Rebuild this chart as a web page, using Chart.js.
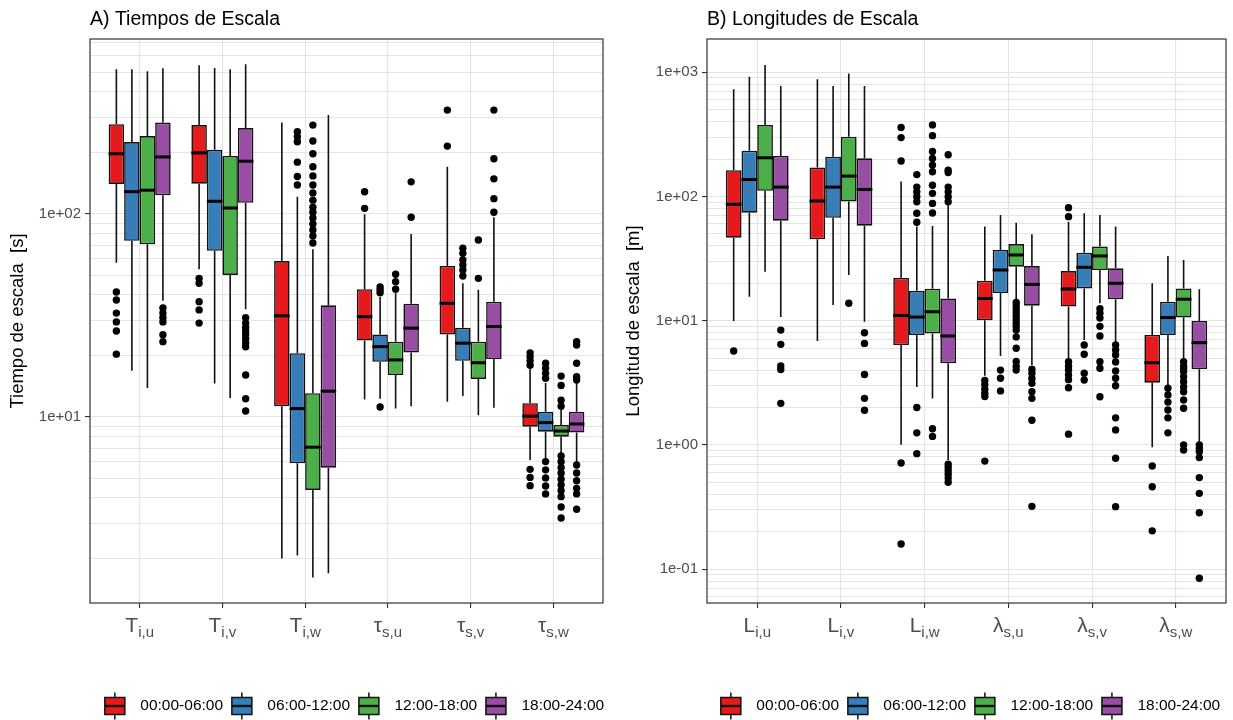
<!DOCTYPE html>
<html><head><meta charset="utf-8">
<script src="https://cdn.jsdelivr.net/npm/chart.js@4.4.1/dist/chart.umd.min.js"></script>
<style>
html,body{margin:0;padding:0;background:#fff;}
#wrap{position:relative;width:1233px;height:720px;overflow:hidden;}
.panel{position:absolute;top:0;height:720px;}
#pA{left:0;width:616px;}
#pB{left:616px;width:617px;}
</style></head><body>
<div id="wrap"><div class="panel" id="pA"><canvas id="cA" width="616" height="720"></canvas></div><div class="panel" id="pB"><canvas id="cB" width="617" height="720"></canvas></div></div>
<script>
// ---------- shared ----------
const seriesNames = ['00:00-06:00','06:00-12:00','12:00-18:00','18:00-24:00'];
const seriesColors = ['#E41A1C','#377EB8','#4DAF4A','#984EA3'];

// ---------- Panel A: Tiempos de Escala ----------
const catA_main = ['T','T','T','\u03C4','\u03C4','\u03C4'];
const catA_sub  = ['i,u','i,v','i,w','s,u','s,v','s,w'];
const yTicksA = [10, 100];
const yTickLabelsA = ['1e+01','1e+02'];
// rows = categories, columns = series
const A_lo  = [[57.5,16.9,13.9,37.4],[53.5,14.6,12.4,33.9],[2.01,2.08,1.62,1.70],[12.2,12.3,11.0,11.3],[11.9,12.7,10.2,11.1],[6.14,6.14,6.62,5.91]];
const A_q1  = [[140.6,73.8,70.9,123.6],[141,65.9,50.1,113.6],[11.3,5.91,4.37,5.63],[23.8,18.7,16.1,20.8],[25.5,18.9,15.4,19.3],[8.96,8.47,8.0,8.38]];
const A_med = [[198,128.8,131,191],[200,115.5,107,182],[31.5,11.0,7.1,13.4],[31.2,22.2,19.1,27.4],[36.3,23.1,18.5,27.9],[10.1,9.38,8.53,9.24]];
const A_q3  = [[277,226,242,282],[274,207,193,265],[58.6,20.6,13.1,35.5],[42.6,25.5,23.5,36.1],[55.5,27.5,23.5,37.0],[11.7,10.6,9.14,10.6]];
const A_hi  = [[516,516,505,522],[541,524,516,546],[282,121.7,67,307],[99.7,39,40.7,79.6],[171,45.6,42.3,96.4],[17.4,14.7,11.0,14.7]];
const A_out = [
  [[41.3,37.7,32.5,29.4,26.5,20.4],[],[],[34.4,32.5,30.8,29.4,25.4,23.5]],
  [[48.2,45.6,37.0,33.7,29.0],[],[],[30.8,29.0,27.7,26.5,25.4,24.3,23.2,22.2,16.1,12.3,10.7]],
  [[],[254,240,227,180,153,139],[274,229,198,171,154,139,127,117,108,102,95.6,89.3,83.4,77.9,71.9],[]],
  [[128.8,106.6],[43.7,42.3,40.9,11.2],[50.5,46.4,42.6],[144,96.4]],
  [[325,216],[67.8,64,59.3,56.1,53,49.5],[74.5,48.2],[325,187,149,119,102]],
  [[20.7,19.8,18.9,18.0,5.52,5.04,4.59],[18.4,17.4,16.4,15.5,6.03,5.49,5.01,4.57,4.18],[15.9,14.3,12.1,11.3,6.43,6.02,5.63,5.28,4.94,4.62,4.33,4.05,3.6,3.18],[23.5,22.6,18.4,15.8,15.2,5.8,5.3,4.85,4.45,4.18,3.51]]
];

// ---------- Panel B: Longitudes de Escala ----------
const catB_main = ['L','L','L','\u03BB','\u03BB','\u03BB'];
const catB_sub  = ['i,u','i,v','i,w','s,u','s,v','s,w'];
const yTicksB = [0.1, 1, 10, 100, 1000];
const yTickLabelsB = ['1e-01','1e+00','1e+01','1e+02','1e+03'];
const B_lo  = [[9.95,15.6,24.8,10.7],[6.87,13.4,23.3,9.8],[1.0,2.93,2.36,0.757],[3.6,5.2,14.6,4.4],[4.84,7.0,13.8,6.58],[0.955,3.03,4.8,1.06]];
const B_q1  = [[46.6,74.1,111,63.9],[45.2,67.4,91,58.2],[6.37,7.67,7.9,4.54],[10.1,16.7,27.2,13.2],[13.0,18.2,25.6,14.9],[3.17,7.67,10.6,4.07]];
const B_med = [[86.5,137,205,119],[92,119,146,114],[11.0,10.7,11.8,7.53],[15.1,25.6,33.8,19.6],[18.0,26.9,33.2,20.0],[4.59,10.6,14.9,6.65]];
const B_q3  = [[163,234,377,212],[171,209,303,203],[22.1,17.4,18.1,15.1],[21,37.1,41.4,27.5],[25.1,35.3,39.5,26.4],[7.67,14.2,18.2,9.95]];
const B_hi  = [[730,922,1145,776],[879,776,976,776],[132,57.2,57.8,87.8],[57.2,71,61.5,49.7],[62.6,73.3,71,57.2],[20,33.2,30.8,17.9]];
const B_out = [
  [[5.7],[],[],[8.4,6.45,4.32,4.05,2.16]],
  [[],[],[13.8],[8.0,6.56,3.69,2.37,1.9]],
  [[359,298,193,0.714,0.159],[150,119,109,99.6,90.8,73.3,62.0,2.0,1.25,0.85],[377,309,230,202,179,158,123,106,88,73.6,1.35,1.17],[217,163,156,119,109,99.6,90.8,0.70,0.66,0.62,0.58,0.54,0.50]],
  [[3.3,3.05,2.8,2.6,2.45,0.74],[4.0,3.44,2.72],[14.0,13.2,12.4,11.6,10.9,10.2,9.6,9.0,8.4,7.4,6.0,4.7,4.3,4.0],[4.07,3.77,3.43,3.13,2.68,2.37,1.58,0.32]],
  [[81.3,68.8,4.68,4.3,4.0,3.66,3.35,2.88,1.22],[6.37,5.36,3.77,3.33],[12.5,11.5,10.5,9.0,7.53,4.68,4.14,2.44],[6.37,5.81,5.3,4.65,3.94,3.44,2.99,1.65,1.32,0.78,0.318]],
  [[0.676,0.46,0.203],[2.86,2.52,2.21,1.91,1.65,1.25],[4.68,4.3,4.14,3.89,3.54,3.23,2.93,2.68,2.3,1.97,1.0,0.91],[1.0,0.94,0.88,0.79,0.545,0.407,0.284,0.0843]]
];

// ---------- drawing ----------
const FONT = "'Liberation Sans', Arial, Helvetica, sans-serif";
const DODGE = 0.75;            // total dodge width (category units)
const nS = seriesNames.length;
const offsets = seriesNames.map((_, s) => (s - (nS - 1) / 2) * DODGE / nS);

function logGrid(min, max) {
  const out = [];
  for (let e = -3; e <= 4; e++) for (let k = 1; k <= 9; k++) {
    const v = parseFloat((k * Math.pow(10, e)).toPrecision(6));
    if (v > min && v < max) out.push(v);
  }
  return out;
}

function makeChart(canvasId, cfg) {
  const isLab = v => cfg.yTicks.some(t => Math.abs(t - v) / t < 1e-6);
  const labFor = v => { const i = cfg.yTicks.findIndex(t => Math.abs(t - v) / t < 1e-6); return i >= 0 ? cfg.yLabels[i] : ''; };
  const datasets = [];
  seriesNames.forEach((name, s) => {
    datasets.push({
      type: 'bar', label: name,
      data: cfg.q1.map((row, i) => ({x: i + 1 + offsets[s], y: [row[s], cfg.q3[i][s]]})),
      backgroundColor: seriesColors[s], borderColor: '#111', borderWidth: 1.6, borderSkipped: false,
      grouped: false, categoryPercentage: 1, barPercentage: 4, maxBarThickness: cfg.boxW, order: 2
    });
  });
  seriesNames.forEach((name, s) => {
    const pts = [];
    cfg.out.forEach((row, i) => row[s].forEach(v => pts.push({x: i + 1 + offsets[s], y: v})));
    datasets.push({type: 'scatter', label: name + ' outliers', data: pts, pointRadius: 3.7,
      pointBackgroundColor: '#000', pointBorderWidth: 0, pointHoverRadius: 3.7, order: 1});
  });

  const plugin = {
    id: 'boxExtras',
    beforeDatasetsDraw(chart) {
      const ctx = chart.ctx, ys = chart.scales.y;
      ctx.save(); ctx.strokeStyle = '#111'; ctx.lineWidth = 1.6;
      for (let s = 0; s < nS; s++) {
        chart.getDatasetMeta(s).data.forEach((el, i) => {
          ctx.beginPath();
          ctx.moveTo(el.x, ys.getPixelForValue(cfg.q3[i][s])); ctx.lineTo(el.x, ys.getPixelForValue(cfg.hi[i][s]));
          ctx.moveTo(el.x, ys.getPixelForValue(cfg.q1[i][s])); ctx.lineTo(el.x, ys.getPixelForValue(cfg.lo[i][s]));
          ctx.stroke();
        });
      }
      ctx.restore();
    },
    afterDatasetsDraw(chart) {
      const ctx = chart.ctx, ys = chart.scales.y, ca = chart.chartArea;
      ctx.save(); ctx.strokeStyle = '#000'; ctx.lineWidth = 3; ctx.lineCap = 'butt';
      for (let s = 0; s < nS; s++) {
        chart.getDatasetMeta(s).data.forEach((el, i) => {
          const y = ys.getPixelForValue(cfg.med[i][s]);
          ctx.beginPath(); ctx.moveTo(el.x - el.width / 2, y); ctx.lineTo(el.x + el.width / 2, y); ctx.stroke();
        });
      }
      ctx.strokeStyle = '#333'; ctx.lineWidth = 1.2;
      ctx.strokeRect(ca.left, ca.top, ca.right - ca.left, ca.bottom - ca.top);
      ctx.restore();
    },
    afterDraw(chart) {
      const ctx = chart.ctx, xs = chart.scales.x;
      ctx.save();
      // category labels with subscripts
      ctx.fillStyle = '#4D4D4D'; ctx.textAlign = 'left'; ctx.textBaseline = 'alphabetic';
      cfg.catMain.forEach((m, i) => {
        const xp = xs.getPixelForValue(i + 1);
        ctx.font = '21px ' + FONT; const wm = ctx.measureText(m).width;
        ctx.font = '15px ' + FONT; const wsub = ctx.measureText(cfg.catSub[i]).width;
        const x0 = xp - (wm + wsub) / 2;
        ctx.font = '21px ' + FONT; ctx.fillText(m, x0, 632);
        ctx.font = '15px ' + FONT; ctx.fillText(cfg.catSub[i], x0 + wm, 637);
      });
      // legend
      ctx.font = '15.5px ' + FONT; ctx.textBaseline = 'middle';
      const kw = 22, boxW = 20, boxH = 17, gap = 14.5, sp = 7.8, ly = 706;
      const tws = seriesNames.map(n => ctx.measureText(n).width);
      const total = tws.reduce((a, w) => a + kw + gap + w, 0) + sp * (nS - 1);
      let x = cfg.legendCenter - total / 2;
      seriesNames.forEach((n, s) => {
        const cx = x + kw / 2;
        ctx.strokeStyle = '#111'; ctx.lineWidth = 1.5;
        ctx.beginPath(); ctx.moveTo(cx, ly - boxH / 2 - 5); ctx.lineTo(cx, ly - boxH / 2);
        ctx.moveTo(cx, ly + boxH / 2); ctx.lineTo(cx, ly + boxH / 2 + 5); ctx.stroke();
        ctx.fillStyle = seriesColors[s];
        ctx.fillRect(cx - boxW / 2, ly - boxH / 2, boxW, boxH);
        ctx.strokeRect(cx - boxW / 2, ly - boxH / 2, boxW, boxH);
        ctx.lineWidth = 2.4; ctx.beginPath(); ctx.moveTo(cx - boxW / 2, ly); ctx.lineTo(cx + boxW / 2, ly); ctx.stroke();
        ctx.fillStyle = '#000'; ctx.fillText(n, x + kw + gap, ly);
        x += kw + gap + tws[s] + sp;
      });
      ctx.restore();
    }
  };

  return new Chart(document.getElementById(canvasId), {
    type: 'bar',
    data: {datasets},
    plugins: [plugin],
    options: {
      responsive: false, animation: false, devicePixelRatio: 1, events: [],
      layout: {padding: {left: 0, right: cfg.padRight, top: 0, bottom: 0}},
      plugins: {
        legend: {display: false}, tooltip: {enabled: false},
        title: {display: true, text: cfg.title, align: 'start', fullSize: false, color: '#000',
          font: {family: FONT, size: 19.5, weight: 'normal'}, padding: {top: 7.5, bottom: 8.1}}
      },
      scales: {
        x: {
          type: 'linear', min: 0.4, max: 0.6 + cfg.catMain.length, offset: false,
          afterBuildTicks: sc => { sc.ticks = cfg.catMain.map((_, i) => ({value: i + 1})); },
          afterFit: sc => { sc.height = 117; },
          ticks: {display: false},
          grid: {offset: false, color: '#E4E4E4', lineWidth: 1.1, drawTicks: true, tickLength: 5, tickColor: '#333', tickWidth: 1.1},
          border: {display: false}
        },
        y: {
          type: 'logarithmic', min: cfg.yMin, max: cfg.yMax,
          afterBuildTicks: sc => { sc.ticks = cfg.grid.map(v => ({value: v})); },
          afterFit: sc => { sc.width = cfg.yAxisW; },
          ticks: {autoSkip: false, padding: 4, color: '#4D4D4D', font: {family: FONT, size: 15}, callback: v => labFor(v)},
          grid: {color: '#E4E4E4', lineWidth: 1.1, drawTicks: true, tickLength: 5,
            tickColor: c => (c.tick && isLab(c.tick.value)) ? '#333' : 'rgba(0,0,0,0)', tickWidth: 1.1},
          border: {display: false},
          title: {display: true, text: cfg.yTitle, color: '#000', font: {family: FONT, size: 18.5}, padding: {top: 7, bottom: 0}}
        }
      }
    }
  });
}

makeChart('cA', {
  title: 'A) Tiempos de Escala', yTitle: 'Tiempo de escala  [s]',
  catMain: catA_main, catSub: catA_sub, yTicks: yTicksA, yLabels: yTickLabelsA,
  lo: A_lo, q1: A_q1, med: A_med, q3: A_q3, hi: A_hi, out: A_out,
  yMin: 1.2125, yMax: 727.8, grid: logGrid(1.2125, 727.8),
  yAxisW: 90, padRight: 13, boxW: 15.5, legendCenter: 354
});
makeChart('cB', {
  title: 'B) Longitudes de Escala', yTitle: 'Longitud de escala  [m]',
  catMain: catB_main, catSub: catB_sub, yTicks: yTicksB, yLabels: yTickLabelsB,
  lo: B_lo, q1: B_q1, med: B_med, q3: B_q3, hi: B_hi, out: B_out,
  yMin: 0.0533, yMax: 1854, grid: logGrid(0.0533, 1854),
  yAxisW: 91, padRight: 7, boxW: 15.7, legendCenter: 354
});
</script>
</body></html>
